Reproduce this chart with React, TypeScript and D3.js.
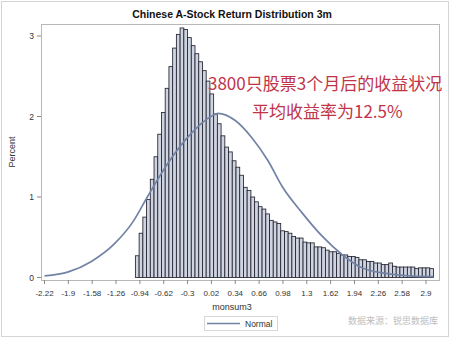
import * as d3 from 'd3'

// percent of stocks per 0.05-wide bin, first bin starts at -1.0
const binStart = -1.0
const binWidth = 0.05
const percent = [
  0.27, 0.55, 0.75, 0.97, 1.22, 1.5, 1.78, 2.05, 2.35, 2.62, 2.85, 3.02, 3.1,
  3.08, 2.98, 2.88, 2.78, 2.68, 2.57, 2.44, 2.28,
  2.03, 1.91, 1.76, 1.62, 1.56, 1.45, 1.37, 1.27, 1.12, 1.08,
  1.0, 0.94, 0.88, 0.85, 0.79, 0.71, 0.69, 0.67, 0.58,
  0.57, 0.55, 0.51, 0.49, 0.49, 0.44, 0.43, 0.43, 0.38, 0.38,
  0.37, 0.34, 0.32, 0.32, 0.3, 0.28, 0.28, 0.26, 0.26, 0.25,
  0.22, 0.22, 0.2, 0.2, 0.18, 0.18, 0.16, 0.16, 0.18, 0.14,
  0.13, 0.13, 0.13, 0.13, 0.13, 0.11, 0.12, 0.12, 0.12, 0.11
]

// fitted normal curve
const normalX = [-2.22, -1.9, -1.59, -1.28, -1.02, -0.84, -0.57, -0.3, 0.03, 0.11, 0.34, 0.56, 0.78, 0.97, 1.24, 1.51, 1.78, 2.02, 2.29, 2.96, 3.0]
const normalY = [0.02, 0.07, 0.2, 0.42, 0.71, 1.0, 1.41, 1.74, 2.01, 2.04, 1.95, 1.74, 1.45, 1.13, 0.8, 0.51, 0.28, 0.13, 0.06, 0.01, 0.01]

const xTicks = [-2.22, -1.9, -1.58, -1.26, -0.94, -0.62, -0.3, 0.02, 0.34, 0.66, 0.98, 1.3, 1.62, 1.94, 2.26, 2.58, 2.9]
const yTicks = [0, 1, 2, 3]

const title = 'Chinese A-Stock Return Distribution 3m'
const note1 = '3800只股票3个月后的收益状况'
const note2 = '平均收益率为12.5%'
const source = '数据来源：锐思数据库'

export default function App() {
  const width = 450
  const height = 338
  const frame = { left: 41, right: 439, top: 24, bottom: 280 }

  const x = d3.scaleLinear().domain([-2.22, 2.9]).range([44.5, 426])
  const y = d3.scaleLinear().domain([0, 3]).range([277.5, 36])

  const bars = percent.map((v, i) => ({ x0: binStart + i * binWidth, v }))
  const normal = normalX.map((v, i) => [v, normalY[i]] as [number, number])

  const line = d3.line<[number, number]>()
    .x(d => x(d[0]))
    .y(d => y(d[1]))
    .curve(d3.curveMonotoneX)

  const font = 'Arial, "Liberation Sans", sans-serif'
  const cjk = '"Noto Sans CJK SC", sans-serif'

  return (
    <svg width={width} height={height} style={{ position: 'absolute', left: 0, top: 0, background: '#fff' }}>
      <rect x={1.5} y={1.5} width={width - 3} height={height - 3} fill="#fff" stroke="#d4d4d4" />

      <text x={232} y={18} textAnchor="middle" fontFamily={font} fontWeight="bold" fontSize={10.5} fill="#111">
        {title}
      </text>

      {/* plot frame */}
      <rect x={frame.left + 0.5} y={frame.top + 0.5} width={frame.right - frame.left} height={frame.bottom - frame.top}
        fill="none" stroke="#b8b8b8" />

      {/* bars */}
      {bars.map((b, i) => (
        <rect key={i}
          x={x(b.x0)} y={y(b.v)}
          width={x(b.x0 + binWidth) - x(b.x0)} height={y(0) - y(b.v)}
          fill="#cfd4e2" stroke="#23232e" strokeWidth={0.85} />
      ))}

      {/* normal curve */}
      <path d={line(normal) ?? ''} fill="none" stroke="#7283a6" strokeWidth={1.7} />

      {/* y axis */}
      {yTicks.map(t => (
        <g key={t}>
          <line x1={frame.left - 4} x2={frame.left} y1={y(t)} y2={y(t)} stroke="#888" />
          <text x={frame.left - 7} y={y(t) + 3} textAnchor="end" fontFamily={font} fontSize={8.5} fill="#333">{t}</text>
        </g>
      ))}
      <text transform={`translate(15,${(frame.top + frame.bottom) / 2}) rotate(-90)`} textAnchor="middle"
        fontFamily={font} fontSize={9} fill="#333">Percent</text>

      {/* x axis */}
      {xTicks.map(t => (
        <g key={t}>
          <line x1={x(t)} x2={x(t)} y1={frame.bottom} y2={frame.bottom + 4} stroke="#888" />
          <text x={x(t)} y={296} textAnchor="middle" fontFamily={font} fontSize={8} fill="#333">{t}</text>
        </g>
      ))}
      <text x={232} y={310} textAnchor="middle" fontFamily={font} fontSize={9} fill="#333">monsum3</text>

      {/* legend */}
      <rect x={204.5} y={316.5} width={73} height={14} fill="#fff" stroke="#d8d8d8" />
      <line x1={207} x2={240} y1={323.5} y2={323.5} stroke="#7283a6" strokeWidth={1.7} />
      <text x={245} y={327} fontFamily={font} fontSize={8.5} fill="#333">Normal</text>

      <text x={438} y={324} textAnchor="end" fontFamily={cjk} fontSize={9} fill="#bdbdbd">{source}</text>

      {/* annotation */}
      <text x={208} y={90} fontFamily={cjk} fontSize={17} fill="#bf3447">{note1}</text>
      <text x={252} y={118} fontFamily={cjk} fontSize={17} fill="#bf3447">{note2}</text>
    </svg>
  )
}
